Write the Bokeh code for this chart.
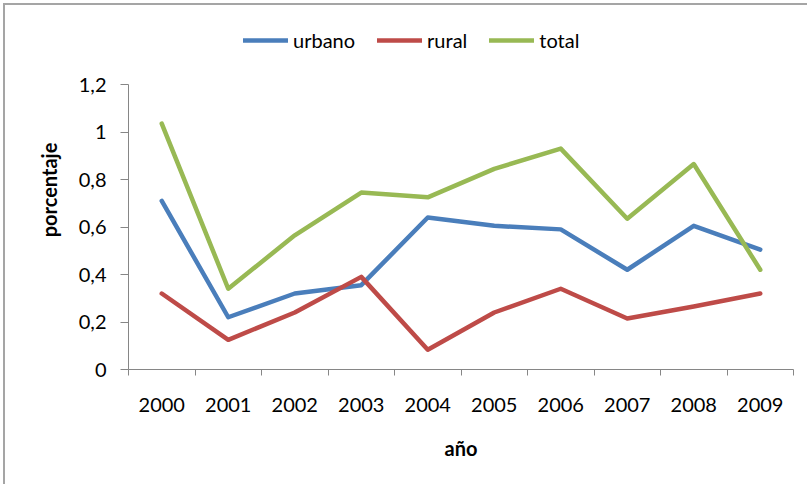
from bokeh.plotting import figure
from bokeh.models import Range1d, FixedTicker, CustomJSTickFormatter, Legend, LegendItem
from bokeh.embed import file_html
from bokeh.resources import INLINE

years = ["2000", "2001", "2002", "2003", "2004", "2005", "2006", "2007", "2008", "2009"]
urbano = [0.71, 0.22, 0.32, 0.355, 0.64, 0.605, 0.59, 0.42, 0.605, 0.505]
rural = [0.32, 0.125, 0.24, 0.39, 0.083, 0.24, 0.34, 0.215, 0.265, 0.32]
total = [1.035, 0.34, 0.565, 0.745, 0.725, 0.845, 0.93, 0.635, 0.865, 0.42]
y_ticks = [0, 0.2, 0.4, 0.6, 0.8, 1.0, 1.2]

xs = [i + 0.5 for i in range(len(years))]
bounds = list(range(len(years) + 1))

FONT = "Lato"
GRAY = "#868686"

# frame spans from y=10 to y=369; value 1.2 sits at y=84
y_top = 1.2 + (84 - 10) / 285 * 1.2

p = figure(frame_width=665, frame_height=359, min_border_left=128, min_border_right=14,
           min_border_top=10, min_border_bottom=115,
           x_range=Range1d(0, 10), y_range=Range1d(0, y_top),
           output_backend="svg", toolbar_location=None)
p.outline_line_color = None
p.xgrid.visible = False
p.ygrid.visible = False
p.background_fill_color = "white"
p.border_fill_alpha = 0
p.styles = {
    "background": "linear-gradient(#a5a5a5,#a5a5a5) 3px 3px / 2px 100% no-repeat, "
                  "linear-gradient(#a5a5a5,#a5a5a5) 3px 3px / 100% 2px no-repeat, white"
}

colors = ["#4A7EBB", "#BE4B48", "#98B954"]
names = ["urbano", "rural", "total"]
renderers = []
for vals, c in zip([urbano, rural, total], colors):
    r = p.line(xs, vals, line_color=c, line_width=4.5, line_join="round", line_cap="round")
    renderers.append(r)

# x axis
xa = p.xaxis[0]
xa.ticker = FixedTicker(ticks=xs, minor_ticks=bounds)
xa.formatter = CustomJSTickFormatter(args=dict(years=years), code="return years[Math.floor(tick)];")
xa.major_tick_line_color = None
xa.major_tick_out = 0
xa.major_tick_in = 0
xa.minor_tick_line_color = GRAY
xa.minor_tick_out = 6
xa.minor_tick_in = 0
xa.axis_line_color = GRAY
xa.major_label_text_font = FONT
xa.major_label_text_font_size = "20px"
xa.major_label_text_color = "#000000"
xa.major_label_standoff = 22
xa.axis_label = "año"
xa.axis_label_text_font = FONT
xa.axis_label_text_font_size = "20px"
xa.axis_label_text_font_style = "bold"
xa.axis_label_text_color = "#000000"
xa.axis_label_standoff = 21

# y axis
ya = p.yaxis[0]
ya.bounds = (0, 1.2)
ya.ticker = FixedTicker(ticks=y_ticks, minor_ticks=[])
ya.formatter = CustomJSTickFormatter(code="var s = (Math.round(tick*10)/10).toString(); return s.replace('.', ',');")
ya.major_tick_line_color = GRAY
ya.major_tick_out = 8
ya.major_tick_in = 0
ya.minor_tick_line_color = None
ya.axis_line_color = GRAY
ya.major_label_text_font = FONT
ya.major_label_text_font_size = "20px"
ya.major_label_text_color = "#000000"
ya.major_label_standoff = 14
ya.axis_label = "porcentaje"
ya.axis_label_text_font = FONT
ya.axis_label_text_font_size = "20px"
ya.axis_label_text_font_style = "bold"
ya.axis_label_text_color = "#000000"
ya.axis_label_standoff = 15

legend = Legend(items=[LegendItem(label=n, renderers=[r]) for n, r in zip(names, renderers)],
                orientation="horizontal", location=(115, 317),
                glyph_width=45, glyph_height=20, label_standoff=5, spacing=22,
                label_text_font=FONT, label_text_font_size="20px", label_text_color="#000000",
                border_line_color=None, background_fill_alpha=0, padding=0, margin=0)
p.add_layout(legend, "center")

open("out.html", "w").write(file_html(p, INLINE))
